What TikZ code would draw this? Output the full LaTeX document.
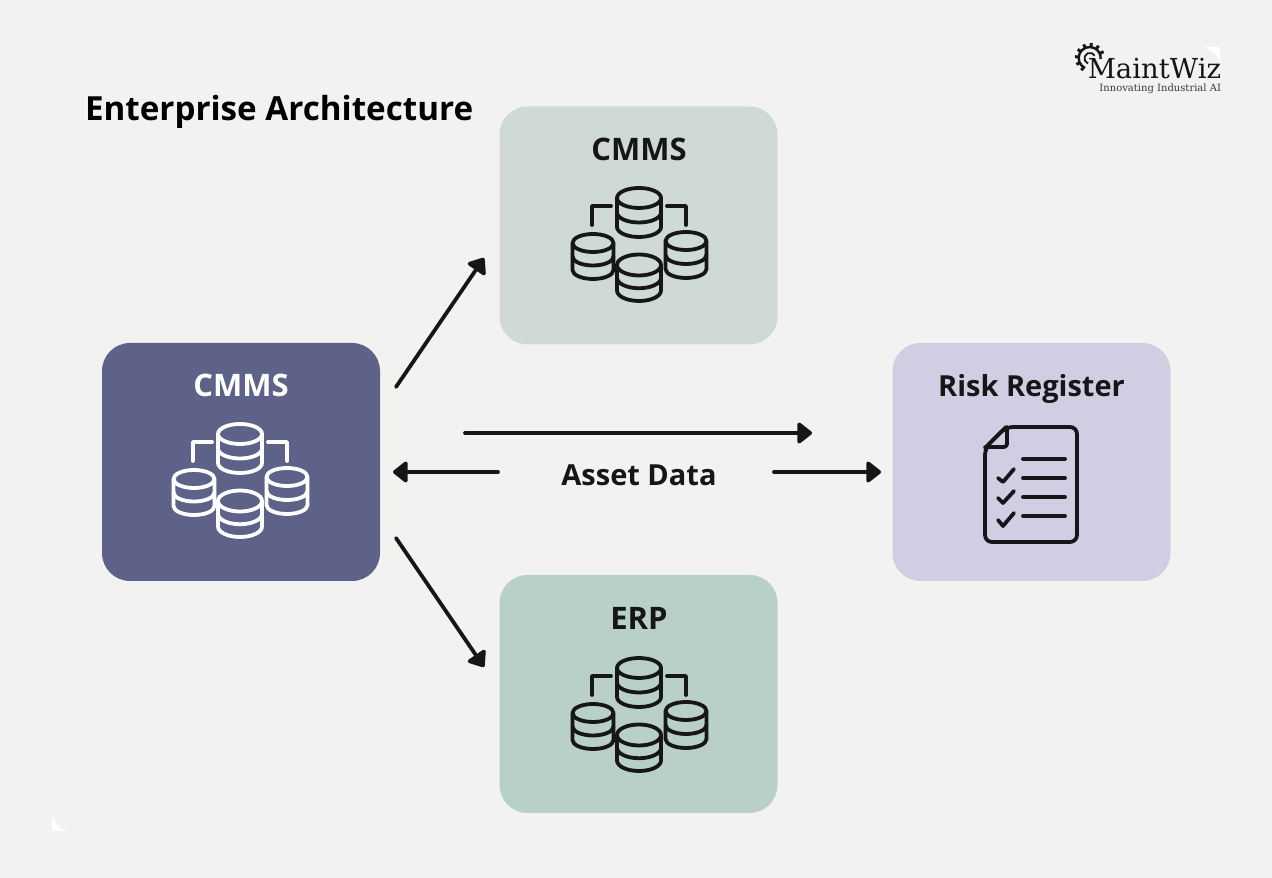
\documentclass[tikz,border=0pt]{standalone}
\usepackage{fontspec}
\usepackage{xcolor}
\usepackage{tikz}
\usetikzlibrary{arrows.meta}
\setmainfont{Open Sans}
\newfontfamily\logofont{DejaVu Serif}

\definecolor{pageColor}{RGB}{242,242,241}
\definecolor{inkColor}{RGB}{22,22,24}
\definecolor{sourceColor}{RGB}{94,98,136}
\definecolor{cmmsColor}{RGB}{207,218,214}
\definecolor{erpColor}{RGB}{185,207,201}
\definecolor{riskColor}{RGB}{208,206,226}

\tikzset{
  panel/.style={rounded corners=28pt,minimum width=278pt,minimum height=238pt,inner sep=0pt,outer sep=0pt},
  heading/.style={anchor=base,inner sep=0pt,outer sep=0pt,font=\fontsize{29}{29}\selectfont\bfseries},
  boxname/.style={heading,font=\fontsize{31}{31}\selectfont\bfseries},
  iconline/.style={line width=3.8pt,line join=round,line cap=round},
  flow/.style={draw=inkColor,line width=3.8pt,line cap=round,-{Triangle[round,length=16pt,width=24pt]}},
}

% one database symbol, centred on a panel
\newcommand{\dbicon}[3]{%
\begin{scope}[shift={(#1,#2)},iconline,draw=#3]
\foreach \cx/\ytop/\rx/\ry/\h in {-1/28/22/10/29,-47/-17/20.5/9/27,46/-15/20.5/9/28,-1/-39/22/10.5/25.5}{
  \draw (\cx,\ytop) ellipse[x radius=\rx,y radius=\ry];
  \draw (\cx-\rx,\ytop) -- (\cx-\rx,\ytop-\h) arc[start angle=180,end angle=360,x radius=\rx,y radius=\ry] -- (\cx+\rx,\ytop);
  \draw (\cx-\rx,\ytop-\h/2) arc[start angle=180,end angle=360,x radius=\rx,y radius=\ry];
}
\draw (-48,1) -- (-48,20) -- (-29,20);
\draw (27,20) -- (46,20) -- (46,1);
\end{scope}}

\begin{document}
\begin{tikzpicture}[x=1pt,y=1pt]
\path[use as bounding box,fill=pageColor] (0,0) rectangle (1272,878);

% torn corners of the sheet
\path[fill=white] (52,63) .. controls (54,55) and (60,49) .. (68,47) -- (52,47) -- cycle;
\path[fill=white] (1203,831) .. controls (1212,829) and (1218,823) .. (1220,815) -- (1220,831) -- cycle;

\node[heading,anchor=base west,font=\fontsize{33.2}{33.2}\selectfont\bfseries] (title) at (85,757) {Enterprise Architecture};

% panels
\node[panel,fill=sourceColor] (source) at (241,416) {};
\node[panel,fill=cmmsColor] (cmms) at (638.5,652.5) {};
\node[panel,fill=erpColor] (erp) at (638.5,184) {};
\node[panel,fill=riskColor] (risk) at (1031.5,416) {};

\node[boxname,text=white] (sourcelabel) at (241,481) {CMMS};
\node[boxname,text=inkColor] (cmmslabel) at (639,717) {CMMS};
\node[boxname,text=inkColor] (erplabel) at (639,248) {ERP};
\node[heading,text=inkColor] (risklabel) at (1031.5,481) {Risk Register};

\dbicon{241}{416}{white}
\dbicon{640}{652}{inkColor}
\dbicon{640}{182}{inkColor}

% register sheet
\begin{scope}[iconline,draw=inkColor]
\draw[rounded corners=7pt] (1006,451) -- (1077,451) -- (1077,336) -- (985,336) -- (985,430) -- cycle;
\draw (985,430) -- (1006,451);
\draw[rounded corners=3pt] (1007,451) -- (1007,431) -- (985,431);
\foreach \ypos in {419,400,381,362}{
  \draw (1023,\ypos) -- (1065,\ypos);
}
\draw (998,400) -- (1003,396) -- (1014,409);
\draw (998,380) -- (1003,375) -- (1014,387);
\draw (998,358) -- (1003,352) -- (1014,365);
\end{scope}

% connectors
\coordinate (fanup) at (396,491);
\coordinate (fanupend) at (484,620);
\coordinate (fandown) at (396,340);
\coordinate (fandownend) at (484,211);
\coordinate (longstart) at (465,445);
\coordinate (longend) at (812,445);
\coordinate (backstart) at (498,406);
\coordinate (backend) at (393,406);
\coordinate (outstart) at (774,406);
\coordinate (outend) at (881,406);

\draw[flow] (fanup) -- (fanupend);
\draw[flow] (fandown) -- (fandownend);
\draw[flow] (longstart) -- (longend);
\draw[flow] (backstart) -- (backend);
\draw[flow] (outstart) -- (outend);

\node[heading,text=inkColor] (assetdata) at (639,392) {Asset Data};

% logo
\begin{scope}[draw=inkColor,line width=2.4pt]
\draw (1085,810) arc[start angle=245,end angle=-5,radius=11];
\draw[line width=1.8pt] (1088,814.5) arc[start angle=250,end angle=30,radius=5.5];
\foreach \ang in {235,205,175,145,115,85,55,25}{
  \draw[line width=3pt] (1090,820)++(\ang:11) -- ++(\ang:4);
}
\end{scope}
\node[anchor=base east,inner sep=0pt,outer sep=0pt,text=inkColor,font=\logofont\fontsize{27.5}{27.5}\selectfont] (logoname) at (1221,799) {MaintWiz};
\node[anchor=base east,inner sep=0pt,outer sep=0pt,text=inkColor!85,font=\logofont\fontsize{10}{10}\selectfont] (logotag) at (1221,786.5) {Innovating Industrial AI};
\end{tikzpicture}
\end{document}
